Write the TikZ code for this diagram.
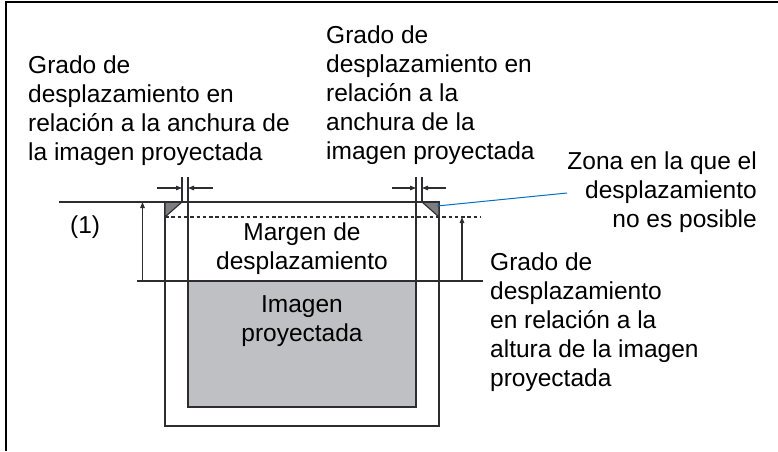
\documentclass[tikz,border=0pt]{standalone}
\usepackage{fontspec}
\setmainfont{Liberation Sans}
\usetikzlibrary{arrows.meta}
\definecolor{ln}{RGB}{45,45,47}
\definecolor{imgfill}{RGB}{191,192,196}
\definecolor{trifill}{RGB}{125,125,130}
\definecolor{leader}{RGB}{0,112,192}
\tikzset{
  lbl/.style={inner sep=0pt, font={\fontsize{24.5}{29}\selectfont}, text=black},
  thick line/.style={draw=ln, line width=1.4pt},
  thin line/.style={draw=ln, line width=1.1pt},
  dimarrow/.style={draw=ln, line width=1.1pt, -{Triangle[length=6pt,width=4.5pt]}},
  dashline/.style={draw=ln, line width=1.1pt, dash pattern=on 3.5pt off 2.8pt},
}
\begin{document}
\begin{tikzpicture}[x=1pt,y=-1pt]
\useasboundingbox (0,0) rectangle (778,451);
\fill[white] (0,0) rectangle (778,451);
% frame
\draw[black, line width=2pt] (5.7,451) -- (5.7,2) -- (778,2);
% projected image
\filldraw[fill=imgfill, thick line] (188,281) rectangle (416,407);
% outer rectangle
\draw[thick line] (165,202) rectangle (439,426);
% corner triangles
\filldraw[fill=trifill, thin line] (165,202) -- (182,202) -- (165,217) -- cycle;
\filldraw[fill=trifill, thin line] (439,202) -- (422,202) -- (439,217) -- cycle;
% reference lines
\draw[thin line] (59,202) -- (439,202);
\draw[thin line] (137,281) -- (483,281);
\draw[dashline] (165,217) -- (481,217);
% tick lines
\draw[thin line] (182,177) -- (182,202);
\draw[thin line] (188,177) -- (188,281);
\draw[thin line] (416,177) -- (416,281);
\draw[thin line] (422,177) -- (422,202);
% coordinates for arrows
\coordinate (la1) at (157,188); \coordinate (la2) at (182,188);
\coordinate (lb1) at (213,188); \coordinate (lb2) at (188,188);
\coordinate (ra1) at (392,188); \coordinate (ra2) at (416,188);
\coordinate (rb1) at (446,188); \coordinate (rb2) at (422,188);
\coordinate (va1) at (142.5,281); \coordinate (va2) at (142.5,202);
\coordinate (vb1) at (462,281); \coordinate (vb2) at (462,217);
\coordinate (bl1) at (437,206); \coordinate (bl2) at (567,193);
\draw[dimarrow] (la1) -- (la2);
\draw[dimarrow] (lb1) -- (lb2);
\draw[dimarrow] (ra1) -- (ra2);
\draw[dimarrow] (rb1) -- (rb2);
\draw[dimarrow] (va1) -- (va2);
\draw[dimarrow] (vb1) -- (vb2);
\draw[leader, line width=1pt] (bl1) -- (bl2);
% labels
\node[lbl, anchor=north west, align=left] (ta) at (28,56)
  {Grado de\\desplazamiento en\\relación a la anchura de\\la imagen proyectada};
\node[lbl, anchor=north west, align=left] (tb) at (326,26)
  {Grado de\\desplazamiento en\\relación a la\\anchura de la\\imagen proyectada};
\node[lbl, anchor=north east, align=right] (tc) at (757,152)
  {Zona en la que el\\desplazamiento\\no es posible};
\node[lbl, anchor=north west, align=left] (td) at (490,253)
  {Grado de\\desplazamiento\\en relación a la\\altura de la imagen\\proyectada};
\node[lbl, anchor=base west] (one) at (70,233) {(1)};
\node[lbl, anchor=north, align=center] (marg) at (302,223)
  {Margen de\\desplazamiento};
\node[lbl, anchor=north, align=center] (img) at (302,295)
  {Imagen\\proyectada};
\end{tikzpicture}
\end{document}
